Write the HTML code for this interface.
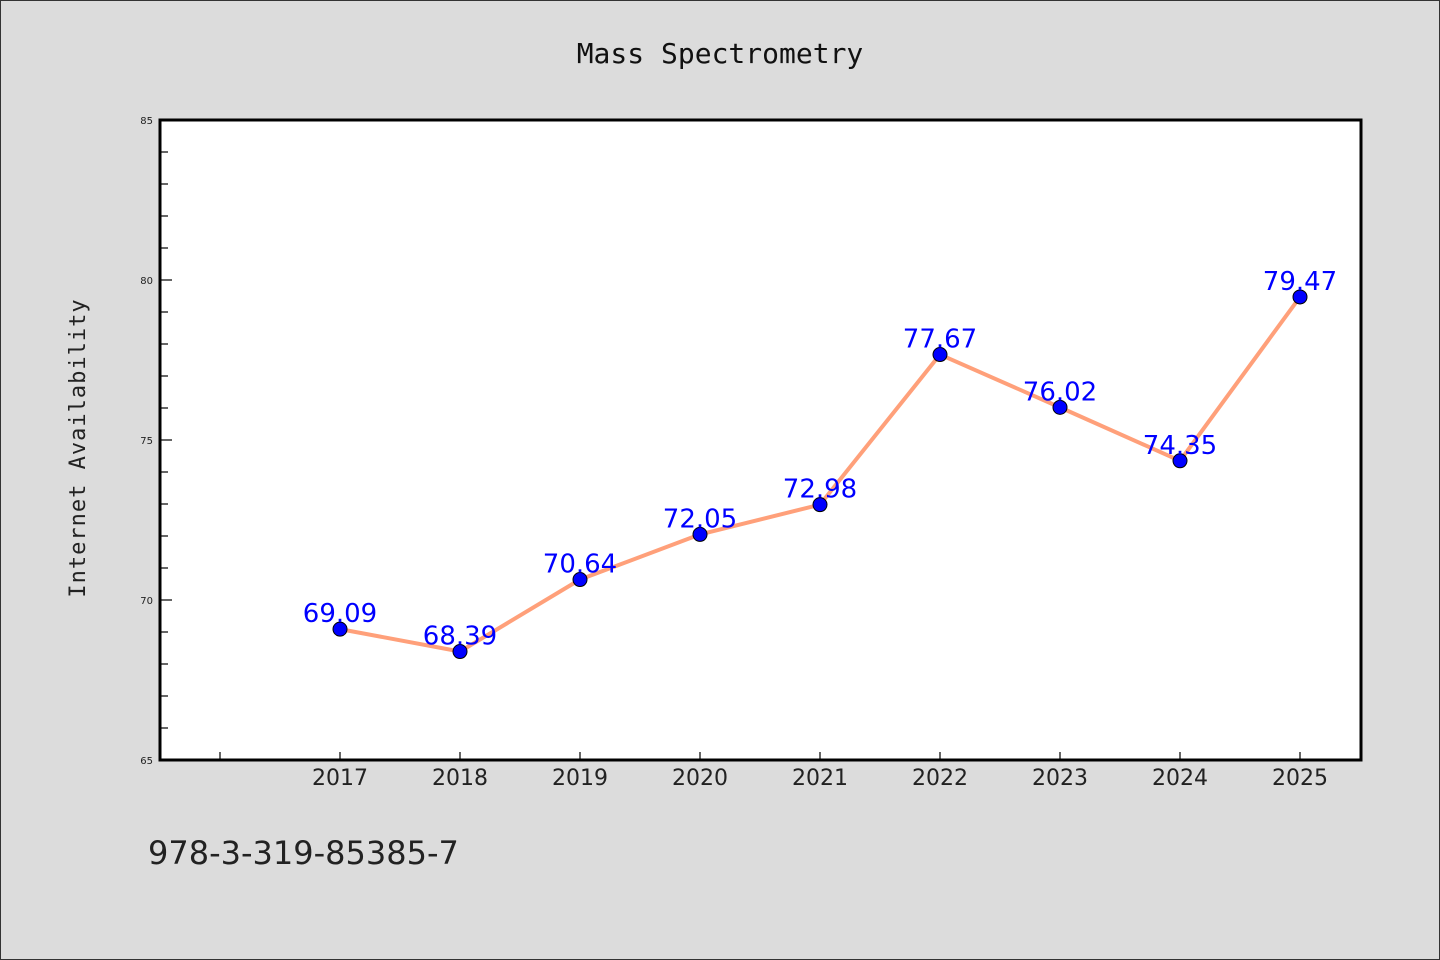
<!DOCTYPE html>
<html><head><meta charset="utf-8"><style>
html,body{margin:0;padding:0;background:#dcdcdc;}
svg{display:block;}
</style></head><body>
<svg width="1440" height="960" xmlns="http://www.w3.org/2000/svg">
<rect x="0.5" y="0.5" width="1439" height="959" fill="#dcdcdc" stroke="#333"/>
<text x="720" y="63" text-anchor="middle" font-family="'DejaVu Sans Mono','Liberation Mono',monospace" font-size="28" fill="#111">Mass Spectrometry</text>
<rect x="160" y="120" width="1201" height="640" fill="#fff"/>
<g id="axes"></g>
<g id="series"></g>
<rect x="160" y="120" width="1201" height="640" fill="none" stroke="#000" stroke-width="3"/>
<text transform="translate(85,448) rotate(-90)" text-anchor="middle" font-family="'DejaVu Sans Mono','Liberation Mono',monospace" font-size="22" fill="#222" letter-spacing="1">Internet Availability</text>
<text x="148" y="864" font-family="'DejaVu Sans','Liberation Sans',sans-serif" font-size="32" fill="#222">978-3-319-85385-7</text>
</svg>
<script>
const years=[2017,2018,2019,2020,2021,2022,2023,2024,2025];
const values=[69.09,68.39,70.64,72.05,72.98,77.67,76.02,74.35,79.47];
const yTicks=[65,70,75,80,85];
const xTickYears=[2016,2017,2018,2019,2020,2021,2022,2023,2024,2025];
const NS='http://www.w3.org/2000/svg';
const X=v=>160+(v-2015.5)*120;
const Y=v=>760-(v-65)*32;
const ax=document.getElementById('axes'), se=document.getElementById('series');
function mk(tag,attrs,parent){const e=document.createElementNS(NS,tag);for(const k in attrs)e.setAttribute(k,attrs[k]);parent.appendChild(e);return e;}
for(let v=65;v<=85;v++){
  const major=v%5===0;
  const t=mk('line',{x1:160,x2:160+(major?12:8),y1:Y(v),y2:Y(v),stroke:'#000','stroke-width':1.2},ax);
  
  
}
yTicks.forEach(v=>{
  const t=mk('text',{x:153,y:Y(v)+4,'text-anchor':'end','font-family':"'DejaVu Sans','Liberation Sans',sans-serif",'font-size':10,fill:'#222'},ax);
  t.textContent=v;
  
  
});
xTickYears.forEach(yr=>{
  const t=mk('line',{x1:X(yr),x2:X(yr),y1:760,y2:752,stroke:'#000','stroke-width':1.2},ax);
  
  
  if(years.includes(yr)){
    const l=mk('text',{x:X(yr),y:785,'text-anchor':'middle','font-family':"'DejaVu Sans','Liberation Sans',sans-serif",'font-size':22,fill:'#222'},ax);
    l.textContent=yr;
    
    
  }
});
const line=mk('polyline',{points:years.map((y,i)=>X(y)+','+Y(values[i])).join(' '),fill:'none',stroke:'#ffa07a','stroke-width':4,'stroke-linejoin':'round'},se);


years.forEach((y,i)=>{
  const c=mk('circle',{cx:X(y),cy:Y(values[i]),r:7,fill:'#0000ff',stroke:'#000','stroke-width':1},se);
  
  
});
years.forEach((y,i)=>{
  const t=mk('text',{x:X(y),y:Y(values[i])-7,'text-anchor':'middle','font-family':"'DejaVu Sans','Liberation Sans',sans-serif",'font-size':26,fill:'#0000ff'},se);
  t.textContent=values[i].toFixed(2);
  
  
});
</script>
</body></html>
